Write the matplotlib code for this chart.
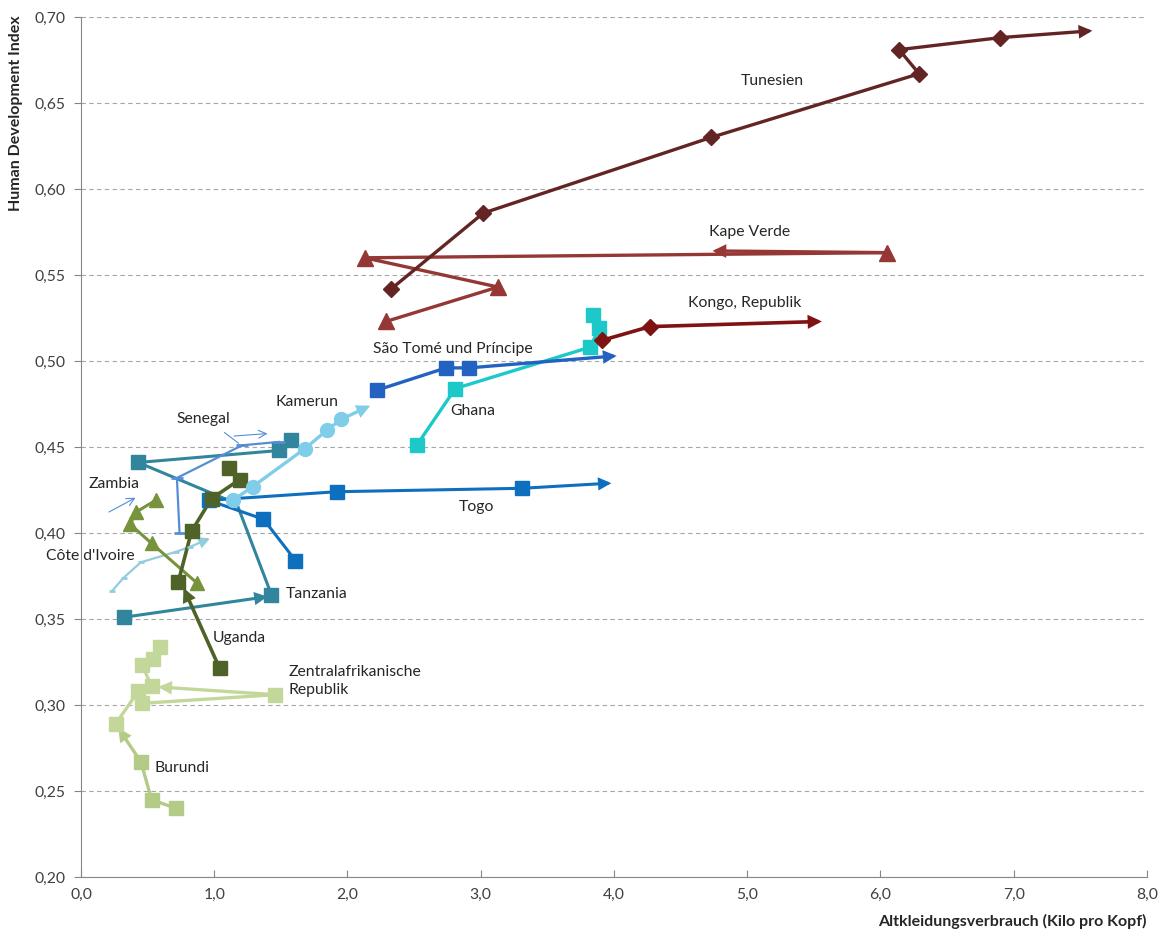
import matplotlib
matplotlib.use('Agg')
import matplotlib.pyplot as plt
from matplotlib.ticker import FuncFormatter

plt.rcParams['font.family'] = ['Lato', 'DejaVu Sans']

# Altkleidungsverbrauch (kg pro Kopf) und HDI je Land, Punkte in Zeitfolge
tun_x = [2.33, 3.02, 4.73, 6.29, 6.14, 6.90, 7.59]
tun_y = [0.542, 0.586, 0.630, 0.667, 0.681, 0.688, 0.692]
cpv_x = [2.29, 3.13, 2.13, 6.05, 4.74]
cpv_y = [0.523, 0.543, 0.560, 0.563, 0.564]
cog_x = [3.91, 4.27, 5.56]
cog_y = [0.512, 0.520, 0.523]
stp_x = [2.22, 2.74, 2.91, 4.02]
stp_y = [0.483, 0.496, 0.496, 0.503]
gha_x = [2.52, 2.81, 3.82, 3.89, 3.84]
gha_y = [0.451, 0.484, 0.508, 0.519, 0.527]
cmr_x = [1.14, 1.29, 1.68, 1.85, 1.95, 2.17]
cmr_y = [0.419, 0.427, 0.449, 0.460, 0.466, 0.474]
tgo_x = [1.61, 1.37, 0.96, 1.92, 3.31, 3.98]
tgo_y = [0.384, 0.408, 0.419, 0.424, 0.426, 0.429]
tza_x = [0.32, 1.40, 1.43, 1.17, 0.43, 1.49, 1.58]
tza_y = [0.351, 0.363, 0.364, 0.417, 0.441, 0.448, 0.454]
sen_x = [0.74, 0.72, 1.21, 1.49]
sen_y = [0.400, 0.432, 0.451, 0.453]
zmb_x = [0.87, 0.53, 0.37, 0.41, 0.56]
zmb_y = [0.371, 0.394, 0.405, 0.412, 0.419]
uga_x = [1.04, 0.77, 0.73, 0.83, 0.98, 1.19, 1.11]
uga_y = [0.3215, 0.368, 0.3715, 0.401, 0.420, 0.431, 0.438]
civ_x = [0.23, 0.32, 0.45, 0.71, 0.82, 0.97]
civ_y = [0.366, 0.374, 0.383, 0.389, 0.392, 0.397]
caf_x = [0.26, 0.43, 0.46, 1.46, 0.58, 0.53, 0.46, 0.54, 0.59]
caf_y = [0.289, 0.308, 0.301, 0.306, 0.3105, 0.311, 0.323, 0.327, 0.334]
bdi_x = [0.71, 0.53, 0.45, 0.28]
bdi_y = [0.240, 0.245, 0.267, 0.2866]

# (x, y, farbe, marker, linienbreite, markergroesse, pfeilspitzen, ohne marker)
series = [
    (bdi_x, bdi_y, '#B3CB86', 's', 2.4, 10, [3], []),
    (caf_x, caf_y, '#C4D79B', 's', 2.4, 10, [4], []),
    (civ_x, civ_y, '#93CDDD', '_', 1.6, 5, [5], []),
    (tza_x, tza_y, '#31859C', 's', 2.2, 10, [1], [3]),
    (sen_x, sen_y, '#558ED5', '_', 1.6, 9, [], []),
    (zmb_x, zmb_y, '#77933C', '^', 2.2, 10, [], []),
    (tgo_x, tgo_y, '#0F6FBF', 's', 2.2, 10, [5], []),
    (uga_x, uga_y, '#4F6228', 's', 2.6, 10, [1], []),
    (cmr_x, cmr_y, '#7FCDE8', 'o', 2.4, 10, [5], []),
    (gha_x, gha_y, '#1DC8C8', 's', 2.4, 10, [], []),
    (stp_x, stp_y, '#2462C2', 's', 2.4, 10, [3], []),
    (cpv_x, cpv_y, '#953735', '^', 2.4, 11, [4], []),
    (cog_x, cog_y, '#7F1212', 'D', 2.6, 8, [2], []),
    (tun_x, tun_y, '#632523', 'D', 2.4, 8, [6], []),
]

labels = [
    ('Tunesien', 5.19, 0.663, 'center'),
    ('Kape Verde', 5.02, 0.575, 'center'),
    ('Kongo, Republik', 4.98, 0.534, 'center'),
    ('São Tomé und Príncipe', 2.79, 0.507, 'center'),
    ('Ghana', 2.94, 0.471, 'center'),
    ('Kamerun', 1.70, 0.476, 'center'),
    ('Senegal', 0.92, 0.466, 'center'),
    ('Zambia', 0.25, 0.4285, 'center'),
    ('Togo', 2.97, 0.415, 'center'),
    ("Côte d'Ivoire", 0.07, 0.3866, 'center'),
    ('Tanzania', 1.77, 0.3645, 'center'),
    ('Uganda', 1.19, 0.339, 'center'),
    ('Zentralafrikanische\nRepublik', 1.56, 0.314, 'left'),
    ('Burundi', 0.76, 0.2634, 'center'),
]

fig = plt.figure(figsize=(11.63, 9.38), dpi=100)
ax = fig.add_axes([0.0696, 0.065, 0.9166, 0.9169])

for x, y, c, m, lw, ms, tips, nomark in series:
    # Linie ohne die Pfeilsegmente, diese kommen als annotate
    lx, ly = [x[0]], [y[0]]
    for j in range(1, len(x)):
        if j in tips:
            lx.append(float('nan'))
            ly.append(float('nan'))
        lx.append(x[j])
        ly.append(y[j])
    ax.plot(lx, ly, color=c, lw=lw, solid_joinstyle='round', solid_capstyle='round',
            zorder=2)
    mx = [v for i, v in enumerate(x) if i not in tips and i not in nomark]
    my = [v for i, v in enumerate(y) if i not in tips and i not in nomark]
    if m == '_':
        ax.plot(mx, my, ls='none', marker=m, ms=ms, mew=2, color=c, zorder=3)
    else:
        ax.plot(mx, my, ls='none', marker=m, ms=ms, mec=c, mfc=c, zorder=3)
    for i in tips:
        ax.annotate('', xy=(x[i], y[i]), xytext=(x[i - 1], y[i - 1]),
                    arrowprops=dict(arrowstyle='-|>,head_length=0.6,head_width=0.3',
                                    color=c, lw=lw, mutation_scale=10,
                                    shrinkA=0, shrinkB=0, joinstyle='miter'),
                    zorder=3)

for txt, lx, ly, ha in labels:
    ax.text(lx, ly, txt, ha=ha, va='center', fontsize=11.3, color='#262626',
            linespacing=1.35)

# duenne Hinweispfeile an Senegal und Zambia
thin = dict(arrowstyle='->', color='#558ED5', lw=0.8, shrinkA=0, shrinkB=0,
            mutation_scale=14)
ax.annotate('', xy=(1.40, 0.4578), xytext=(1.15, 0.4564), arrowprops=thin)
ax.annotate('', xy=(1.20, 0.4512), xytext=(1.06, 0.4594),
            arrowprops=dict(arrowstyle='-', color='#558ED5', lw=0.8))
ax.annotate('', xy=(0.41, 0.4205), xytext=(0.21, 0.4122), arrowprops=thin)

ax.set_xlim(0, 8)
ax.set_ylim(0.20, 0.70)
ax.set_xticks(range(0, 9))
ax.set_yticks([0.20 + 0.05 * i for i in range(11)])
ax.xaxis.set_major_formatter(FuncFormatter(lambda v, p: f'{v:.1f}'.replace('.', ',')))
ax.yaxis.set_major_formatter(FuncFormatter(lambda v, p: f'{v:.2f}'.replace('.', ',')))
ax.grid(axis='y', color='#A6A6A6', ls=(0, (4, 3)), lw=0.8)
ax.set_axisbelow(True)
for s in ['top', 'right']:
    ax.spines[s].set_visible(False)
for s in ['left', 'bottom']:
    ax.spines[s].set_color('#868686')
ax.tick_params(axis='x', direction='in', length=5, color='#868686', labelsize=11.3,
               labelcolor='#404040', pad=8)
ax.tick_params(axis='y', direction='out', length=5, color='#868686', labelsize=11.3,
               labelcolor='#404040', pad=6)

fig.text(0.9862, 0.010, 'Altkleidungsverbrauch (Kilo pro Kopf)', ha='right',
         va='bottom', fontsize=11.5, fontweight='bold', color='#262626')
fig.text(0.014, 0.984, 'Human Development Index', ha='center', va='top',
         rotation=90, fontsize=11.5, fontweight='bold', color='#262626')

fig.savefig('out.png', dpi=100)
